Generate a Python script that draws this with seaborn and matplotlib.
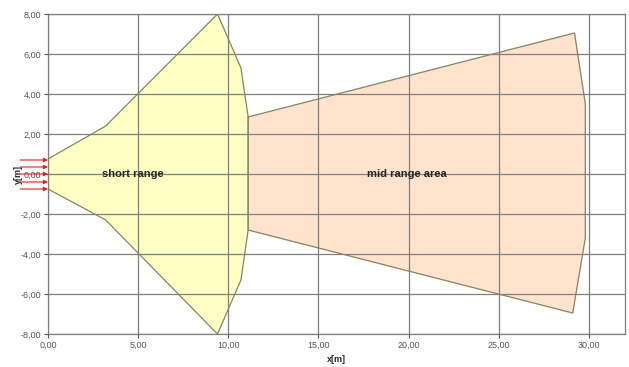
import matplotlib
matplotlib.use('Agg')
import matplotlib.pyplot as plt
import seaborn as sns
import pandas as pd
from matplotlib.ticker import FuncFormatter, MultipleLocator

# outline of the short range zone (x, y in metres)
short_x = [0.0, 3.2, 9.4, 10.7, 11.1, 11.1, 10.7, 9.4, 3.2, 0.0, 0.0]
short_y = [0.75, 2.4, 8.0, 5.3, 2.85, -2.8, -5.3, -8.0, -2.3, -0.75, 0.75]

# outline of the mid range area
mid_x = [11.1, 29.2, 29.8, 29.8, 29.1, 11.1, 11.1]
mid_y = [2.85, 7.05, 3.5, -3.2, -6.95, -2.8, 2.85]

# incoming sensor beams at the origin
arrow_y = [0.7, 0.35, 0.0, -0.4, -0.75]
arrow_len = 1.55

SHORT_FILL = '#FFFFC4'
MID_FILL = '#FFE3CC'
EDGE = '#85856A'
GRID = '#7F7F7F'

sns.set_style('white')
plt.rcParams['font.family'] = ['Liberation Sans', 'DejaVu Sans']

fig = plt.figure(figsize=(6.29, 3.67), dpi=100)
ax = fig.add_axes([48 / 629, 1 - 334 / 367, (625 - 48) / 629, (334 - 14) / 367])

ax.fill(mid_x, mid_y, color=MID_FILL, zorder=1)
ax.fill(short_x, short_y, color=SHORT_FILL, zorder=1)
for xs, ys in [(mid_x, mid_y), (short_x, short_y)]:
    df = pd.DataFrame({'x': xs, 'y': ys})
    sns.lineplot(data=df, x='x', y='y', sort=False, estimator=None,
                 color=EDGE, linewidth=0.9, ax=ax, zorder=3)

for yv in arrow_y:
    ax.annotate('', xy=(0, yv), xytext=(-arrow_len, yv),
                arrowprops=dict(arrowstyle='-|>', color='#E02020', lw=0.8,
                                mutation_scale=6, shrinkA=0, shrinkB=0),
                annotation_clip=False, zorder=5)

ax.text(4.7, 0, 'short range', fontsize=8, fontweight='bold', ha='center', va='center', zorder=4)
ax.text(19.9, 0, 'mid range area', fontsize=8, fontweight='bold', ha='center', va='center', zorder=4)

ax.set_xlim(0, 32)
ax.set_ylim(-8, 8)
ax.xaxis.set_major_locator(MultipleLocator(5))
ax.yaxis.set_major_locator(MultipleLocator(2))
fmt = FuncFormatter(lambda v, p: f'{v:.2f}'.replace('.', ',').replace('-0,00', '0,00'))
ax.xaxis.set_major_formatter(fmt)
ax.yaxis.set_major_formatter(fmt)
ax.tick_params(labelsize=6.5, colors='#555555', length=3, width=0.8, direction='out',
               left=True, bottom=True, pad=2)
ax.grid(True, color=GRID, linewidth=0.9, zorder=2)
ax.set_axisbelow(False)
for s in ax.spines.values():
    s.set_color(GRID)
    s.set_linewidth(0.9)

ax.set_xlabel('x[m]', fontsize=6.5, fontweight='bold', labelpad=4)
ax.set_ylabel('y[m]', fontsize=6.5, fontweight='bold', labelpad=-2)

fig.savefig('out.png', dpi=100, facecolor='white')
